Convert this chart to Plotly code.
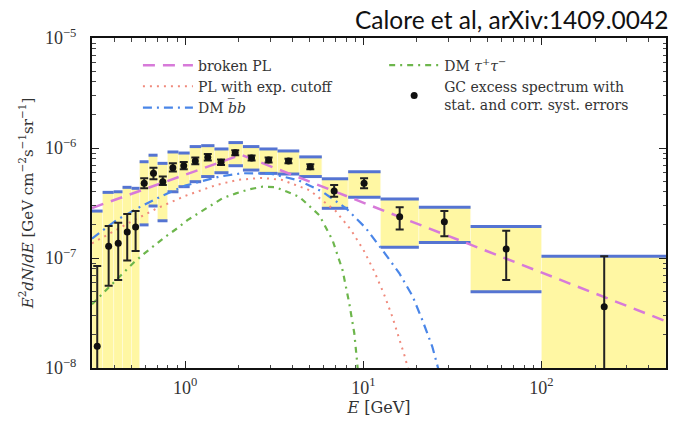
import plotly.graph_objects as go

# --- GC excess spectrum: 24 energy bins (GeV) ---
E_lo = [0.300, 0.344, 0.397, 0.445, 0.500, 0.555, 0.623, 0.700, 0.796, 0.917, 1.06, 1.23,
        1.46, 1.75, 2.11, 2.61, 3.30, 4.37, 5.85, 8.22, 12.5, 20.5, 40.0, 100.0]
E_hi = [0.344, 0.397, 0.445, 0.500, 0.555, 0.623, 0.700, 0.796, 0.917, 1.06, 1.23, 1.46,
        1.75, 2.11, 2.61, 3.30, 4.37, 5.85, 8.22, 12.5, 20.5, 40.0, 100.0, 500.0]
E_c = [0.321, 0.372, 0.421, 0.473, 0.527, 0.589, 0.664, 0.749, 0.853, 0.982, 1.14, 1.34,
       1.59, 1.91, 2.36, 2.94, 3.80, 5.04, 6.86, 10.1, 16.0, 28.5, 63.4, 225.0]

# E^2 dN/dE  [GeV cm^-2 s^-1 sr^-1]
flux = [1.58e-8, 1.28e-7, 1.36e-7, 1.72e-7, 1.91e-7, 4.78e-7, 5.88e-7, 4.94e-7, 6.62e-7,
        6.90e-7, 7.62e-7, 8.23e-7, 7.41e-7, 9.06e-7, 8.11e-7, 7.78e-7, 7.62e-7, 6.76e-7,
        4.07e-7, 4.78e-7, 2.37e-7, 2.14e-7, 1.21e-7, 3.60e-8]
# statistical error band (absolute bounds)
stat_lo = [1.0e-9, 5.6e-8, 6.3e-8, 9.5e-8, 1.16e-7, 4.3e-7, 5.2e-7, 4.6e-7, 6.1e-7,
           6.4e-7, 7.1e-7, 7.7e-7, 7.0e-7, 8.6e-7, 7.7e-7, 7.4e-7, 7.25e-7, 6.4e-7,
           3.6e-7, 4.3e-7, 1.82e-7, 1.58e-7, 6.3e-8, 1.0e-9]
stat_hi = [8.45e-8, 1.95e-7, 2.09e-7, 2.51e-7, 2.67e-7, 5.3e-7, 6.6e-7, 5.5e-7, 7.25e-7,
           7.45e-7, 8.2e-7, 8.8e-7, 7.85e-7, 9.55e-7, 8.55e-7, 8.2e-7, 8.0e-7, 7.1e-7,
           4.6e-7, 5.3e-7, 2.89e-7, 2.67e-7, 1.77e-7, 1.04e-7]
# correlated systematic band (absolute bounds)
syst_lo = [1.0e-9, 1.0e-9, 1.0e-9, 1.0e-9, 1.0e-9, 2.0e-7, 2.97e-7, 2.18e-7, 4.0e-7,
           4.45e-7, 4.94e-7, 5.5e-7, 5.96e-7, 6.9e-7, 6.3e-7, 5.88e-7, 5.8e-7, 5.5e-7,
           2.83e-7, 3.56e-7, 1.25e-7, 1.38e-7, 4.94e-8, 1.0e-9]
syst_hi = [2.67e-7, 3.95e-7, 4.0e-7, 4.39e-7, 4.3e-7, 7.5e-7, 8.6e-7, 7.25e-7, 9.2e-7,
           9.0e-7, 1.03e-6, 1.05e-6, 9.8e-7, 1.12e-6, 1.03e-6, 9.8e-7, 9.4e-7, 8.3e-7,
           5.25e-7, 6.09e-7, 3.44e-7, 2.89e-7, 1.93e-7, 1.04e-7]

# --- model spectra ---
bpl_E = [0.30, 2.06, 500.0]
bpl_v = [2.85e-7, 8.68e-7, 2.66e-8]

pec_E = [0.30, 0.40, 0.50, 0.70, 1.0, 1.5, 2.0, 2.7, 3.5, 5.0, 7.0, 8.5, 10.0, 11.5,
         13.0, 14.5, 16.0, 17.0, 18.2]
pec_v = [1.36e-7, 1.77e-7, 2.15e-7, 2.84e-7, 3.67e-7, 4.62e-7, 5.14e-7, 5.35e-7, 5.12e-7,
         4.13e-7, 2.67e-7, 1.81e-7, 1.19e-7, 7.6e-8, 4.79e-8, 2.97e-8, 1.82e-8, 1.31e-8,
         8.75e-9]

bb_E = [0.30, 0.41, 0.555, 0.75, 1.0, 1.3, 1.56, 2.1, 3.0, 4.3, 5.9, 8.0, 10.3, 12.8,
        15.9, 18.9, 21.5, 24.4, 26.5]
bb_v = [1.50e-7, 2.20e-7, 2.90e-7, 3.70e-7, 4.55e-7, 5.10e-7, 5.50e-7, 5.90e-7, 5.85e-7,
        5.10e-7, 4.0e-7, 2.83e-7, 1.88e-7, 1.18e-7, 7.3e-8, 4.5e-8, 2.7e-8, 1.56e-8, 9.5e-9]

tt_E = [0.30, 0.353, 0.398, 0.453, 0.515, 0.586, 0.673, 0.783, 0.902, 1.03, 1.20, 1.40,
        1.62, 1.93, 2.29, 2.72, 3.23, 4.37, 5.65, 6.71, 7.64, 8.34, 8.9, 9.2, 9.4]
tt_v = [3.8e-8, 4.94e-8, 6.1e-8, 7.5e-8, 9.1e-8, 1.09e-7, 1.31e-7, 1.58e-7, 1.86e-7,
        2.21e-7, 2.58e-7, 3.03e-7, 3.49e-7, 3.87e-7, 4.21e-7, 4.45e-7, 4.4e-7, 3.6e-7,
        2.46e-7, 1.46e-7, 7.8e-8, 3.87e-8, 2.07e-8, 1.2e-8, 8e-9]

x_tickvals = [1, 10, 100]
x_ticktext = ["10<sup>0</sup>", "10<sup>1</sup>", "10<sup>2</sup>"]
y_tickvals = [1e-8, 1e-7, 1e-6, 1e-5]
y_ticktext = ["10<sup>\u22128</sup>", "10<sup>\u22127</sup>", "10<sup>\u22126</sup>",
              "10<sup>\u22125</sup>"]

SERIF = "Liberation Serif"
WIDE_SERIF = "DejaVu Serif"
YELLOW = "#fff7a3"
EDGE = "#5574d2"

fig = go.Figure()

# systematic boxes
for lo, hi, b, t in zip(E_lo, E_hi, syst_lo, syst_hi):
    fig.add_trace(go.Scatter(
        x=[lo, hi, hi, lo, lo], y=[b, b, t, t, b], mode="lines", fill="toself",
        fillcolor=YELLOW, line=dict(width=0.6, color="#fffbe0"),
        hoverinfo="skip", showlegend=False))

# blue top/bottom edges of the boxes
ex, ey = [], []
for lo, hi, b, t in zip(E_lo, E_hi, syst_lo, syst_hi):
    ex += [lo, hi, None, lo, hi, None]
    ey += [t, t, None, b, b, None]
fig.add_trace(go.Scatter(x=ex, y=ey, mode="lines", line=dict(color=EDGE, width=3),
                         hoverinfo="skip", showlegend=False))

# model curves
fig.add_trace(go.Scatter(x=bpl_E, y=bpl_v, mode="lines", name="broken PL",
                         line=dict(color="#d77ad9", width=2.5, dash="12px,8px"),
                         legend="legend"))
fig.add_trace(go.Scatter(x=pec_E, y=pec_v, mode="lines", name="PL with exp. cutoff",
                         line=dict(color="#f08a7c", width=2, dash="2px,5px"),
                         legend="legend"))
fig.add_trace(go.Scatter(x=bb_E, y=bb_v, mode="lines", name="DM <i>b\u0305b</i>",
                         line=dict(color="#4a86e8", width=2.2, dash="9px,5px,2px,5px"),
                         legend="legend"))
fig.add_trace(go.Scatter(x=tt_E, y=tt_v, mode="lines",
                         name="DM <i>\u03c4</i><sup>+</sup><i>\u03c4</i><sup>\u2212</sup>",
                         line=dict(color="#6db64c", width=2.2, dash="6px,5px,2px,5px"),
                         legend="legend2"))

# data points with statistical errors
fig.add_trace(go.Scatter(
    x=E_c, y=flux, mode="markers",
    name="GC excess spectrum with<br>stat. and corr. syst. errors",
    marker=dict(color="#111111", size=7),
    error_y=dict(type="data", symmetric=False,
                 array=[h - f for h, f in zip(stat_hi, flux)],
                 arrayminus=[f - l for f, l in zip(flux, stat_lo)],
                 color="#222222", thickness=2, width=4),
    legend="legend2"))

axis_common = dict(
    type="log", showline=True, linecolor="#111", linewidth=2, mirror="allticks",
    ticks="inside", ticklen=7, tickwidth=1, tickcolor="#222", showgrid=False,
    zeroline=False, tickfont=dict(family=SERIF, size=18, color="#333"),
    minor=dict(ticks="inside", ticklen=3.5, tickwidth=1, tickcolor="#444",
               dtick="D1", showgrid=False),
)

legend_common = dict(
    xanchor="left", yanchor="top", bgcolor="rgba(0,0,0,0)", itemwidth=50,
    font=dict(family=WIDE_SERIF, size=14, color="#333"), tracegroupgap=0,
    itemclick=False, itemdoubleclick=False,
)

fig.update_layout(
    width=678, height=423, margin=dict(l=92, r=10, t=38, b=55),
    paper_bgcolor="white", plot_bgcolor="white", showlegend=True,
    xaxis=dict(axis_common, range=[-0.5229, 2.699], tickmode="array",
               tickvals=x_tickvals, ticktext=x_ticktext, ticklabelstandoff=2,
               title=dict(text="<i>E</i> [GeV]",
                          font=dict(family=WIDE_SERIF, size=16, color="#333"),
                          standoff=4)),
    yaxis=dict(axis_common, range=[-8, -5], tickmode="array",
               tickvals=y_tickvals, ticktext=y_ticktext, ticklabelstandoff=10,
               title=dict(text="<i>E</i><sup>2</sup><i>dN</i>/<i>dE</i> [GeV cm<sup>\u22122</sup>s<sup>\u22121</sup>sr<sup>\u22121</sup>]",
                          font=dict(family=WIDE_SERIF, size=15, color="#333"), standoff=8)),
    legend=dict(legend_common, x=0.08, y=0.965),
    legend2=dict(legend_common, x=0.509, y=0.965),
    annotations=[dict(text="Calore et al, arXiv:1409.0042", xref="paper", yref="paper",
                      x=1.0, y=1.055, xanchor="right", yanchor="middle", showarrow=False,
                      xshift=4, font=dict(family="Lato", size=24.5, color="#111"))],
)

fig.write_html("out.html")
